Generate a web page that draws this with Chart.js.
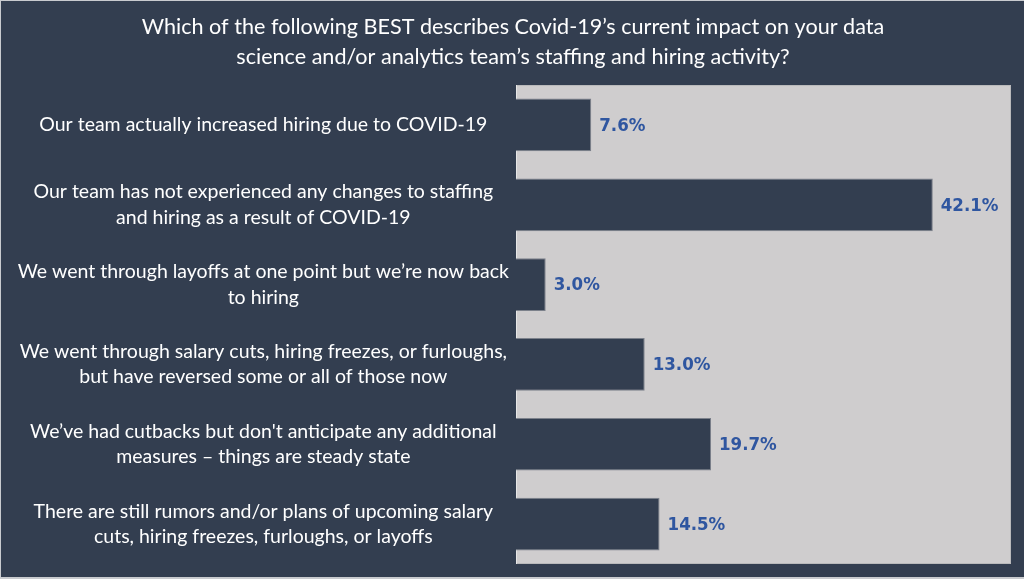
<!DOCTYPE html>
<html>
<head>
<meta charset="utf-8">
<script src="https://cdn.jsdelivr.net/npm/chart.js@4/dist/chart.umd.min.js"></script>
<style>
  html, body { margin: 0; padding: 0; background: #c9cbcf; overflow: hidden; }
  #wrap { position: absolute; left: 1px; top: 1px; width: 1023px; height: 576px; background: #333e50; }
  canvas { display: block; }
</style>
</head>
<body>
<div id="wrap"><canvas id="c" width="1023" height="576"></canvas></div>
<script>
const titleLines = [
  "Which of the following BEST describes Covid-19\u2019s current impact on your data",
  "science and/or analytics team\u2019s staffing and hiring activity?"
];
const categories = [
  "Our team actually increased hiring due to COVID-19",
  ["Our team has not experienced any changes to staffing", "and hiring as a result of COVID-19"],
  ["We went through layoffs at one point but we\u2019re now back", "to hiring"],
  ["We went through salary cuts, hiring freezes, or furloughs,", "but have reversed some or all of those now"],
  ["We\u2019ve had cutbacks but don't anticipate any additional", "measures \u2013 things are steady state"],
  ["There are still rumors and/or plans of upcoming salary", "cuts, hiring freezes, furloughs, or layoffs"]
];
const values = [7.6, 42.1, 3.0, 13.0, 19.7, 14.5];
const axisMin = 0;
const axisMax = 50;

const plotBg = {
  id: 'plotBg',
  beforeDatasetsDraw(chart) {
    const {ctx, chartArea: a} = chart;
    ctx.save();
    ctx.fillStyle = '#cfcdce';
    ctx.fillRect(a.left, a.top, a.right - a.left, a.bottom - a.top);
    ctx.strokeStyle = '#b9b9bb';
    ctx.lineWidth = 1;
    ctx.strokeRect(a.left + 0.5, a.top + 0.5, a.right - a.left - 1, a.bottom - a.top - 1);
    ctx.strokeStyle = '#e6e6e6';
    ctx.beginPath();
    ctx.moveTo(a.left + 0.5, a.top);
    ctx.lineTo(a.left + 0.5, a.bottom);
    ctx.stroke();
    ctx.restore();
  }
};

const valueLabels = {
  id: 'valueLabels',
  afterDatasetsDraw(chart) {
    const {ctx} = chart;
    const meta = chart.getDatasetMeta(0);
    ctx.save();
    ctx.font = 'bold 18.5px "DejaVu Sans Condensed", "DejaVu Sans", sans-serif';
    ctx.fillStyle = '#2f56a0';
    ctx.textAlign = 'left';
    ctx.textBaseline = 'middle';
    meta.data.forEach((bar, i) => {
      ctx.fillText(values[i].toFixed(1) + '%', bar.x + 8, bar.y + 1);
    });
    ctx.restore();
  }
};

new Chart(document.getElementById('c'), {
  type: 'bar',
  data: {
    labels: categories,
    datasets: [{
      data: values,
      backgroundColor: '#333e50',
      borderColor: '#7c818b',
      borderWidth: 1,
      borderSkipped: 'start',
      categoryPercentage: 1,
      barPercentage: 0.66
    }]
  },
  options: {
    indexAxis: 'y',
    responsive: false,
    animation: false,
    devicePixelRatio: 1,
    layout: { padding: { left: 14, right: 13, top: 0, bottom: 13 } },
    plugins: {
      legend: { display: false },
      tooltip: { enabled: false },
      title: {
        display: true,
        text: titleLines,
        color: '#ffffff',
        font: { family: 'Lato, "Noto Sans", sans-serif', size: 21.6, weight: 'normal', lineHeight: 1.39 },
        padding: { top: 11, bottom: 13 }
      }
    },
    scales: {
      x: {
        display: false,
        min: axisMin,
        max: axisMax
      },
      y: {
        grid: { display: false, drawTicks: false },
        border: { display: false },
        afterFit(scale) {
          scale.width = 501;
          scale.paddingTop = 0;
          scale.paddingBottom = 0;
        },
        ticks: {
          color: '#ffffff',
          crossAlign: 'center',
          padding: 7,
          font: { family: 'Lato, "Noto Sans", sans-serif', size: 19.5, lineHeight: 1.3 }
        }
      }
    }
  },
  plugins: [plotBg, valueLabels]
});
</script>
</body>
</html>
